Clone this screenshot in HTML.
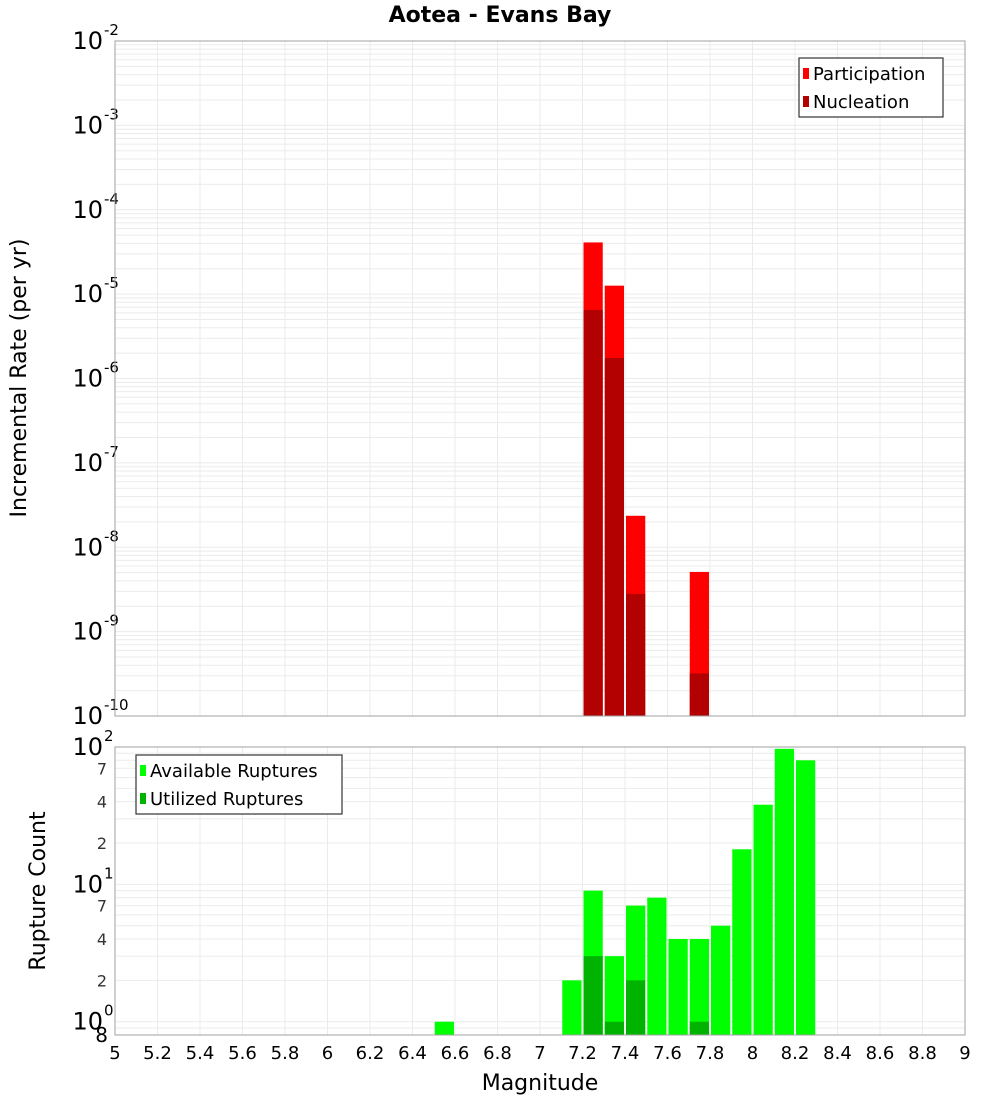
<!DOCTYPE html>
<html><head><meta charset="utf-8"><title>Aotea - Evans Bay</title>
<style>html,body{margin:0;padding:0;background:#fff}svg{display:block;font-family:"DejaVu Sans","Liberation Sans",sans-serif}</style>
</head><body>
<svg id="chart" width="1000" height="1100" viewBox="0 0 1000 1100" xmlns="http://www.w3.org/2000/svg">
<text x="500" y="22" text-anchor="middle" font-size="22" font-weight="bold">Aotea - Evans Bay</text>
<g id="topPlot"></g>
<g id="botPlot"></g>
<text transform="translate(26,378) rotate(-90)" text-anchor="middle" font-size="22">Incremental Rate (per yr)</text>
<text transform="translate(45,891) rotate(-90)" text-anchor="middle" font-size="22">Rupture Count</text>
<text x="540" y="1090" text-anchor="middle" font-size="22">Magnitude</text>
</svg>
<script>
const binStarts = [6.5,7.1,7.2,7.3,7.4,7.5,7.6,7.7,7.8,7.9,8.0,8.1,8.2];
const rateBins = [7.2,7.3,7.4,7.7];
const participation = [4.1e-5,1.26e-5,2.36e-8,5.1e-9];
const nucleation = [6.5e-6,1.75e-6,2.8e-9,3.2e-10];
const available = [1,2,9,3,7,8,4,4,5,18,38,97,80];
const utilizedBins = [7.2,7.3,7.4,7.7];
const utilized = [3,1,2,1];
const xTicks = [5,5.2,5.4,5.6,5.8,6,6.2,6.4,6.6,6.8,7,7.2,7.4,7.6,7.8,8,8.2,8.4,8.6,8.8,9];
const rateDecades = [-10,-9,-8,-7,-6,-5,-4,-3,-2];
const countMinorLabels = [2,4,7,20,40,70];

const NS="http://www.w3.org/2000/svg";
const svgEl=document.getElementById('chart');
function mk(parent,tag,attrs){const e=document.createElementNS(NS,tag);for(const k in attrs)e.setAttribute(k,attrs[k]);parent.appendChild(e);return e;}
const X0=115,X1=965;
const xs=m=>X0+(m-5)/4*(X1-X0);
const T0=41,T1=716;
const yT=v=>T1-(Math.log10(v)+10)/8*(T1-T0);
const B0=747,B1=1035,bLo=Math.log10(0.8),bHi=2;
const yB=v=>B1-(Math.log10(v)-bLo)/(bHi-bLo)*(B1-B0);
const topG=document.getElementById('topPlot'),botG=document.getElementById('botPlot');

function grid(g,y0,y1,hvals,yf){
  for(let m=5.2;m<8.99;m+=0.2){const l=mk(g,'line',{x1:xs(m),x2:xs(m),y1:y0,y2:y1,stroke:'#ebebeb','stroke-width':1});
  
  }
  hvals.forEach(v=>{const y=yf(v);if(y<y0||y>y1)return;const l=mk(g,'line',{x1:X0,x2:X1,y1:y,y2:y,stroke:'#ebebeb','stroke-width':1});
  
  });
}
let th=[];for(let d=-10;d<-2;d++)for(let k=1;k<10;k++)th.push(k*Math.pow(10,d));
grid(topG,T0,T1,th,yT);
let bh=[];for(let d=-1;d<2;d++)for(let k=1;k<10;k++)bh.push(k*Math.pow(10,d));bh.push(100);
grid(botG,B0,B1,bh,yB);

const bw=xs(5.1)-xs(5)-2;
rateBins.forEach((b,i)=>{
  const x=xs(b)+1;
  const p=mk(topG,'rect',{x:x,y:yT(participation[i]),width:bw,height:T1-yT(participation[i]),fill:'#ff0000'});
  
  
  const n=mk(topG,'rect',{x:x,y:yT(nucleation[i]),width:bw,height:T1-yT(nucleation[i]),fill:'#b30000'});
  
  
});
binStarts.forEach((b,i)=>{
  const r=mk(botG,'rect',{x:xs(b)+1,y:yB(available[i]),width:bw,height:B1-yB(available[i]),fill:'#00ff00'});
  
  
});
utilizedBins.forEach((b,i)=>{
  const r=mk(botG,'rect',{x:xs(b)+1,y:yB(utilized[i]),width:bw,height:B1-yB(utilized[i]),fill:'#00b300'});
  
  
});
[[T0,T1],[B0,B1]].forEach(([a,b])=>{const f=mk(svgEl,'rect',{x:X0,y:a,width:X1-X0,height:b-a,fill:'none',stroke:'#a0a0a0','stroke-width':1});

});

function pow(g,y,exp){
  const t=mk(g,'text',{x:103,y:y+8,'text-anchor':'end','font-size':24});
  
  
  t.textContent='10';
  const s=mk(g,'text',{x:104,y:y-6,'font-size':15});
  
  
  s.textContent=exp;
}
rateDecades.forEach(d=>pow(topG,yT(Math.pow(10,d)),String(d)));
[0,1,2].forEach(d=>pow(botG,yB(Math.pow(10,d)),String(d)));
countMinorLabels.forEach(v=>{const t=mk(botG,'text',{x:107,y:yB(v)+6,'text-anchor':'end','font-size':16,fill:'#333'});


t.textContent=String(v%10===0?v/10:v);});
{const t=mk(botG,'text',{x:108,y:1042,'text-anchor':'end','font-size':20});


t.textContent='8';}
xTicks.forEach(m=>{const t=mk(svgEl,'text',{x:xs(m),y:1059,'text-anchor':'middle','font-size':18});


t.textContent=String(m);});

function legend(x,y,w,items){
  const g=mk(svgEl,'g',{});
  
  
  const b=mk(g,'rect',{x:x,y:y,width:w,height:59,fill:'#fff',stroke:'#333','stroke-width':1.2});
  
  
  items.forEach((it,i)=>{
    const sw=mk(g,'rect',{x:x+4,y:y+10+i*28,width:6,height:11,fill:it[1]});
    
    
    const t=mk(g,'text',{x:x+14,y:y+22+i*28,'font-size':18});
    
    
    t.textContent=it[0];
  });
}
legend(799,58,144,[['Participation','#ff0000'],['Nucleation','#b30000']]);
legend(136,755,206,[['Available Ruptures','#00ff00'],['Utilized Ruptures','#00b300']]);
</script>
</body></html>
